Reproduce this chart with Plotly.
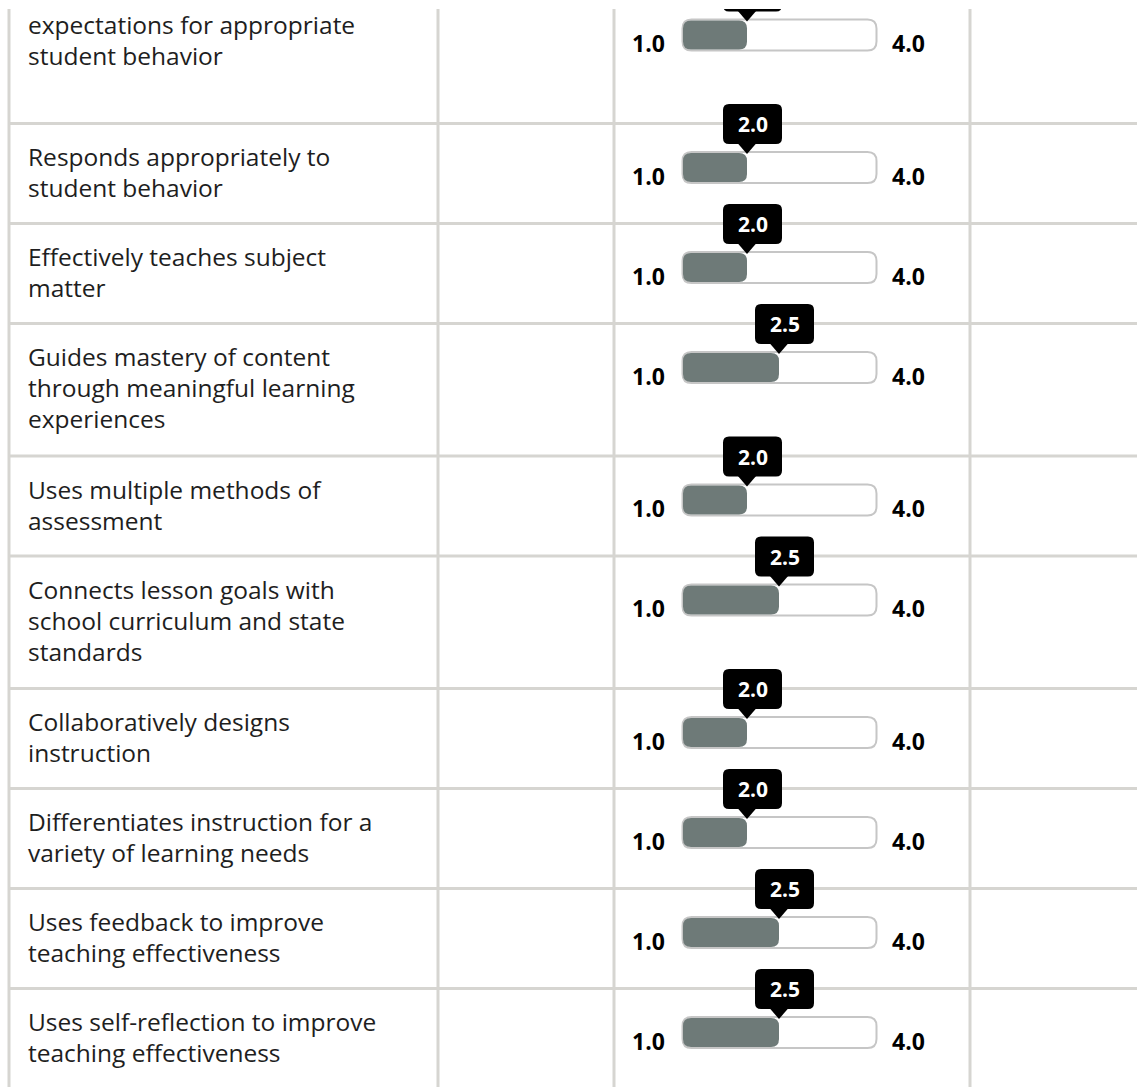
import plotly.graph_objects as go

# ---------------- data ----------------
criteria_lines = [
    ["expectations for appropriate", "student behavior"],
    ["Responds appropriately to", "student behavior"],
    ["Effectively teaches subject", "matter"],
    ["Guides mastery of content", "through meaningful learning", "experiences"],
    ["Uses multiple methods of", "assessment"],
    ["Connects lesson goals with", "school curriculum and state", "standards"],
    ["Collaboratively designs", "instruction"],
    ["Differentiates instruction for a", "variety of learning needs"],
    ["Uses feedback to improve", "teaching effectiveness"],
    ["Uses self-reflection to improve", "teaching effectiveness"],
]
scores = [2.0, 2.0, 2.0, 2.5, 2.0, 2.5, 2.0, 2.0, 2.5, 2.5]
scale_min = 1.0
scale_max = 4.0
scale_labels = ["1.0", "4.0"]
row_slots = [3, 2, 2, 3, 2, 3, 2, 2, 2, 2]   # row height in text-line slots

# ---------------- layout geometry ----------------
W, H = 1137, 1087
FONT = "Open Sans"
GRID = "#d6d5d1"
FILL = "#6e7a78"
TRACK_LINE = "#c6c6c6"
TEXT = "#1e1e1e"

PX_PER_UNIT = 64.0
TRACK_LEFT = 683.0
DOM_L, DOM_R = 640.0, 920.0
r0 = scale_min - (TRACK_LEFT - DOM_L) / PX_PER_UNIT
r1 = r0 + (DOM_R - DOM_L) / PX_PER_UNIT


def ux(px):
    return px / PX_PER_UNIT


def rrect(x0, x1, y0, y1, rx, ry):
    return (f"M {x0+rx},{y0} L {x1-rx},{y0} Q {x1},{y0} {x1},{y0+ry} "
            f"L {x1},{y1-ry} Q {x1},{y1} {x1-rx},{y1} L {x0+rx},{y1} "
            f"Q {x0},{y1} {x0},{y1-ry} L {x0},{y0+ry} Q {x0},{y0} {x0+rx},{y0} Z")


# row tops
tops = []
t = -9.0
for s in row_slots:
    tops.append(t)
    t += 100.0 if s == 2 else 132.5

shapes = []
annotations = []

# grid lines
COLS = [9, 438, 614, 970]
for y in tops[1:]:
    shapes.append(dict(type="line", xref="x", yref="y", x0=COLS[0], x1=W, y0=y, y1=y,
                       line=dict(color=GRID, width=3)))
for x in COLS:
    shapes.append(dict(type="line", xref="x", yref="y", x0=x, x1=x, y0=9, y1=H + 5,
                       line=dict(color=GRID, width=3)))

for lines, v, top in zip(criteria_lines, scores, tops):
    # track
    shapes.append(dict(type="path", xref="x2", yref="y",
                       path=rrect(scale_min - ux(0.5), scale_max + ux(1.5), top + 28.5, top + 59.5, ux(9), 9),
                       fillcolor="white", line=dict(color=TRACK_LINE, width=2)))
    # value fill
    shapes.append(dict(type="path", xref="x2", yref="y",
                       path=rrect(scale_min, v, top + 29.5, top + 58.5, ux(8), 8),
                       fillcolor=FILL, line=dict(width=0)))
    # tooltip bubble
    shapes.append(dict(type="path", xref="x2", yref="y",
                       path=rrect(v + ux(5.5 - 29.5), v + ux(5.5 + 29.5), top - 19.5, top + 20.5, ux(6), 6),
                       fillcolor="black", line=dict(width=0)))
    shapes.append(dict(type="path", xref="x2", yref="y",
                       path=f"M {v-ux(10)},{top+19} L {v+ux(10)},{top+19} L {v},{top+30.5} Z",
                       fillcolor="black", line=dict(width=0)))
    annotations.append(dict(xref="x2", yref="y", x=v, y=top + 0.5, xshift=5.5,
                            text=f"<b>{v:.1f}</b>", showarrow=False,
                            font=dict(family=FONT, size=21, color="white"),
                            xanchor="center", yanchor="middle"))
    # scale end labels
    annotations.append(dict(xref="x2", yref="y", x=scale_min, y=top + 52, xshift=-16,
                            text=f"<b>{scale_labels[0]}</b>", showarrow=False,
                            font=dict(family=FONT, size=23, color="black"),
                            xanchor="right", yanchor="middle"))
    annotations.append(dict(xref="x2", yref="y", x=scale_max, y=top + 52, xshift=15,
                            text=f"<b>{scale_labels[1]}</b>", showarrow=False,
                            font=dict(family=FONT, size=23, color="black"),
                            xanchor="left", yanchor="middle"))
    # criterion label
    for i, ln in enumerate(lines):
        annotations.append(dict(xref="x", yref="y", x=26, y=top + 33 + 31 * i,
                                text=ln, showarrow=False,
                                font=dict(family=FONT, size=24.5, color=TEXT),
                                xanchor="left", yanchor="middle"))

# header occlusion strip at the very top
shapes.append(dict(type="rect", xref="x", yref="y", x0=0, x1=W, y0=-40, y1=9,
                   fillcolor="white", line=dict(width=0)))

fig = go.Figure()
fig.add_trace(go.Scatter(x=[0], y=[0], xaxis="x", yaxis="y", mode="markers",
                         marker=dict(opacity=0), hoverinfo="skip", showlegend=False))
fig.add_trace(go.Scatter(x=scores, y=[tp + 44 for tp in tops], xaxis="x2", yaxis="y", mode="markers",
                         marker=dict(opacity=0), hoverinfo="skip", showlegend=False))

fig.update_layout(
    width=W, height=H,
    margin=dict(l=0, r=0, t=0, b=0),
    paper_bgcolor="white", plot_bgcolor="white",
    xaxis=dict(range=[0, W], visible=False, fixedrange=True),
    yaxis=dict(range=[H, 0], visible=False, fixedrange=True),
    xaxis2=dict(domain=[DOM_L / W, DOM_R / W], range=[r0, r1], anchor="y",
                visible=False, fixedrange=True),
    shapes=shapes,
    annotations=annotations,
    showlegend=False,
)

fig.write_html("out.html", config={"displayModeBar": False},
               post_script="document.body.style.margin='0';")
